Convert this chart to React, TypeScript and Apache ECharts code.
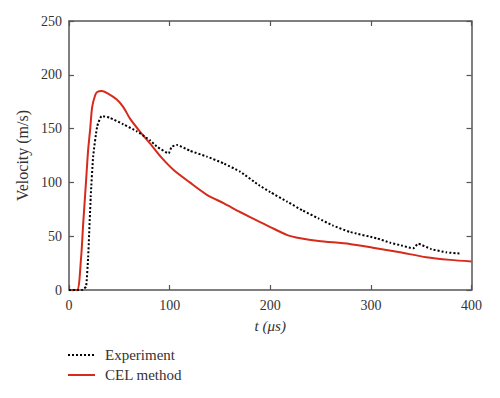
import React, { useEffect, useRef } from "react";
import * as echarts from "echarts";

const xTicks = [0, 100, 200, 300, 400];
const yTicks = [0, 50, 100, 150, 200, 250];
const legendNames = ["Experiment", "CEL method"];

const expT = [0, 13, 15, 17, 19, 21.6, 24, 28, 32.5, 40.8, 54, 67.4, 80.7, 87, 99, 102, 107, 120, 137, 154, 170, 188.5, 200, 217, 232, 248, 262, 279, 306, 319, 330, 342, 347, 360, 375, 388];
const expV = [0, 0, 1.5, 3, 30, 87, 124, 152, 161.7, 160, 154, 147.5, 139, 133.5, 127, 133, 134.8, 129.5, 124, 117.5, 110, 97.6, 91, 82, 74, 66.5, 60, 54, 48, 44, 41.5, 38.7, 43, 38, 35, 34];

const celT = [0, 8, 12, 14, 17, 19, 21, 23, 26, 28, 32.5, 38, 47.5, 54, 60.8, 70.7, 80.7, 92, 104, 120, 137, 154, 170, 190, 200, 217, 230, 248, 279, 302, 329, 355, 379, 400];
const celV = [0, 0, 30, 60, 102, 130, 149, 170, 181, 184, 185, 183, 177, 170, 159, 147, 136, 123, 111.5, 100, 88.5, 80.5, 72.5, 63, 58.5, 51, 48, 45.5, 42.8, 39.3, 35, 30.5, 28, 26.5];

const FONT = "Liberation Serif";
const RED = "#d62a1a";

function mkTick() {
  return { show: true, inside: true, length: 5, lineStyle: { color: "#555", width: 1.2 } };
}
function mkLine() {
  return { show: true, onZero: false, lineStyle: { color: "#555", width: 1.5 } };
}

export default function App() {
  const ref = useRef<HTMLDivElement>(null);
  useEffect(() => {
    if (!ref.current) return;
    const chart = echarts.init(ref.current, undefined, { renderer: "svg" });
    const lbl = { color: "#333", fontFamily: FONT, fontSize: 14 };
    chart.setOption({
      animation: false,
      grid: { left: 69, right: 28.5, top: 21, bottom: 108, containLabel: false },
      graphic: [
        { type: "line", shape: { x1: 68, y1: 355, x2: 95, y2: 355 }, style: { stroke: "#000", lineWidth: 2, lineDash: [2, 2] } },
        { type: "text", x: 105, y: 355, style: { text: legendNames[0], fill: "#333", font: `15px "${FONT}"`, textVerticalAlign: "middle" } },
        { type: "line", shape: { x1: 68, y1: 375, x2: 95, y2: 375 }, style: { stroke: RED, lineWidth: 2 } },
        { type: "text", x: 105, y: 375, style: { text: legendNames[1], fill: "#333", font: `15px "${FONT}"`, textVerticalAlign: "middle" } },
      ],
      xAxis: [
        {
          type: "value",
          min: xTicks[0],
          max: xTicks[xTicks.length - 1],
          interval: 100,
          axisLine: mkLine(),
          axisTick: mkTick(),
          splitLine: { show: false },
          axisLabel: { ...lbl, margin: 8 },
          name: "t (μs)",
          nameLocation: "middle",
          nameGap: 28,
          nameTextStyle: { color: "#333", fontFamily: FONT, fontSize: 15, fontStyle: "italic" },
        },
        {
          type: "value",
          position: "top",
          min: xTicks[0],
          max: xTicks[xTicks.length - 1],
          interval: 100,
          axisLine: mkLine(),
          axisTick: mkTick(),
          splitLine: { show: false },
          axisLabel: { show: false },
        },
      ],
      yAxis: [
        {
          type: "value",
          min: yTicks[0],
          max: yTicks[yTicks.length - 1],
          interval: 50,
          axisLine: mkLine(),
          axisTick: mkTick(),
          splitLine: { show: false },
          axisLabel: { ...lbl, margin: 7 },
          name: "Velocity (m/s)",
          nameLocation: "middle",
          nameGap: 37,
          nameTextStyle: { color: "#333", fontFamily: FONT, fontSize: 16 },
        },
        {
          type: "value",
          position: "right",
          min: yTicks[0],
          max: yTicks[yTicks.length - 1],
          interval: 50,
          axisLine: mkLine(),
          axisTick: mkTick(),
          splitLine: { show: false },
          axisLabel: { show: false },
        },
      ],
      series: [
        {
          name: legendNames[0],
          type: "line",
          showSymbol: false,
          symbol: "none",
          smooth: 0.15,
          data: expT.map((t, i) => [t, expV[i]]),
          lineStyle: { color: "#000", width: 2, type: [2, 2] },
          z: 3,
        },
        {
          name: legendNames[1],
          type: "line",
          showSymbol: false,
          symbol: "none",
          smooth: 0.25,
          data: celT.map((t, i) => [t, celV[i]]),
          lineStyle: { color: RED, width: 2 },
          z: 2,
        },
      ],
    });
    return () => chart.dispose();
  }, []);
  return <div ref={ref} style={{ width: 500, height: 398, position: "absolute", left: 0, top: 0 }} />;
}
